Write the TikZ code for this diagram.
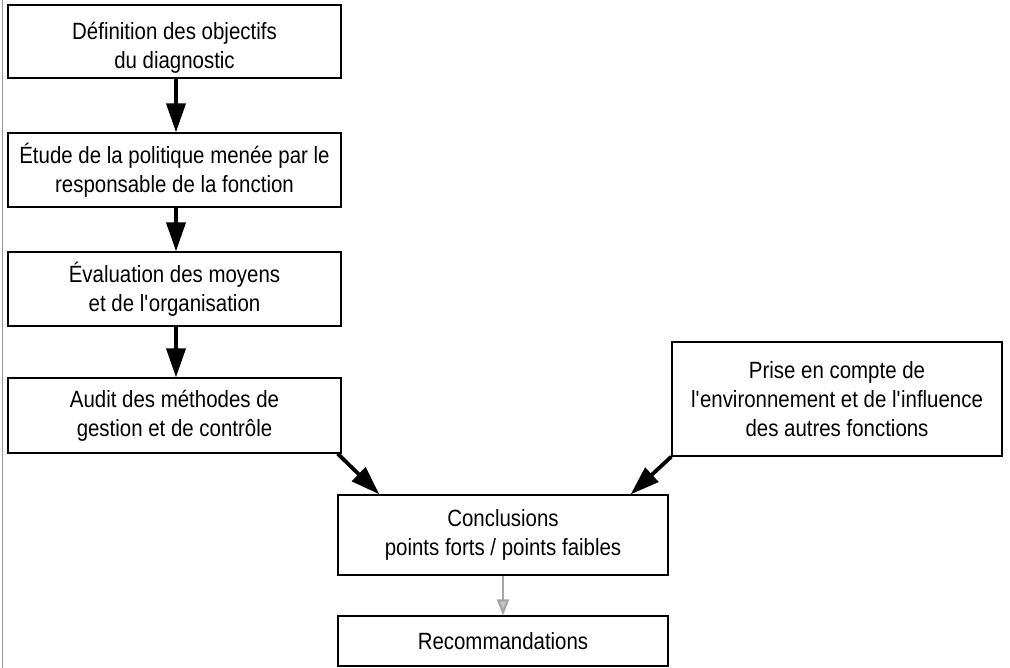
\documentclass[tikz,border=0pt]{standalone}
\usepackage{fontspec}
\setmainfont{Liberation Sans}[FakeStretch=0.87]
\usetikzlibrary{arrows.meta}
\newcommand{\apos}{\textquotesingle}

\begin{document}
\begin{tikzpicture}[x=1pt,y=-1pt,
  stage/.style={draw=black, line width=1.3pt, fill=white, align=center,
    inner sep=0pt, font=\fontsize{23.5}{29}\selectfont},
  flow/.style={line width=3.8pt, -{Triangle[length=29pt,width=19pt]}},
  weak/.style={draw=gray!70, line width=2.2pt,
    -{Triangle[length=16pt,width=12pt,fill=gray!45]}}]

  % page frame
  \useasboundingbox (0,0) rectangle (1010,668);
  \draw[gray!80, line width=1pt] (2,0) -- (2,668);

  % main sequence of the diagnosis
  \node[stage, minimum width=333pt, minimum height=73pt] (obj) at (174.5,41.5)
    {\rule{0pt}{30pt}Définition des objectifs\\du diagnostic};
  \node[stage, minimum width=333pt, minimum height=74pt] (pol) at (174.5,170)
    {Étude de la politique menée par le\\responsable de la fonction};
  \node[stage, minimum width=333pt, minimum height=74pt] (moy) at (174.5,289)
    {Évaluation des moyens\\et de l\apos organisation};
  \node[stage, minimum width=333pt, minimum height=75pt] (aud) at (174.5,415.5)
    {Audit des méthodes de\\gestion et de contrôle};

  % environment box
  \node[stage, minimum width=330pt, minimum height=114pt] (env) at (837,399)
    {Prise en compte de\\l\apos environnement et de l\apos influence\\des autres fonctions};

  % conclusions and recommendations
  \node[stage, minimum width=330pt, minimum height=80pt] (con) at (503,535)
    {Conclusions\\points forts / points faibles};
  \node[stage, minimum width=330pt, minimum height=50pt] (rec) at (503,641)
    {Recommandations};

  % connectors
  \draw[flow] ([xshift=1.5pt]obj.south) -- ([xshift=1.5pt]pol.north);
  \draw[flow] ([xshift=1.5pt]pol.south) -- ([xshift=1.5pt]moy.north);
  \draw[flow] ([xshift=1.5pt]moy.south) -- ([xshift=1.5pt]aud.north);
  \draw[flow] ([xshift=-4pt]aud.south east) -- ([xshift=42pt]con.north west);
  \draw[flow] (env.south west) -- ([xshift=-38pt]con.north east);
  \draw[weak] (con.south) -- (rec.north);
\end{tikzpicture}
\end{document}
